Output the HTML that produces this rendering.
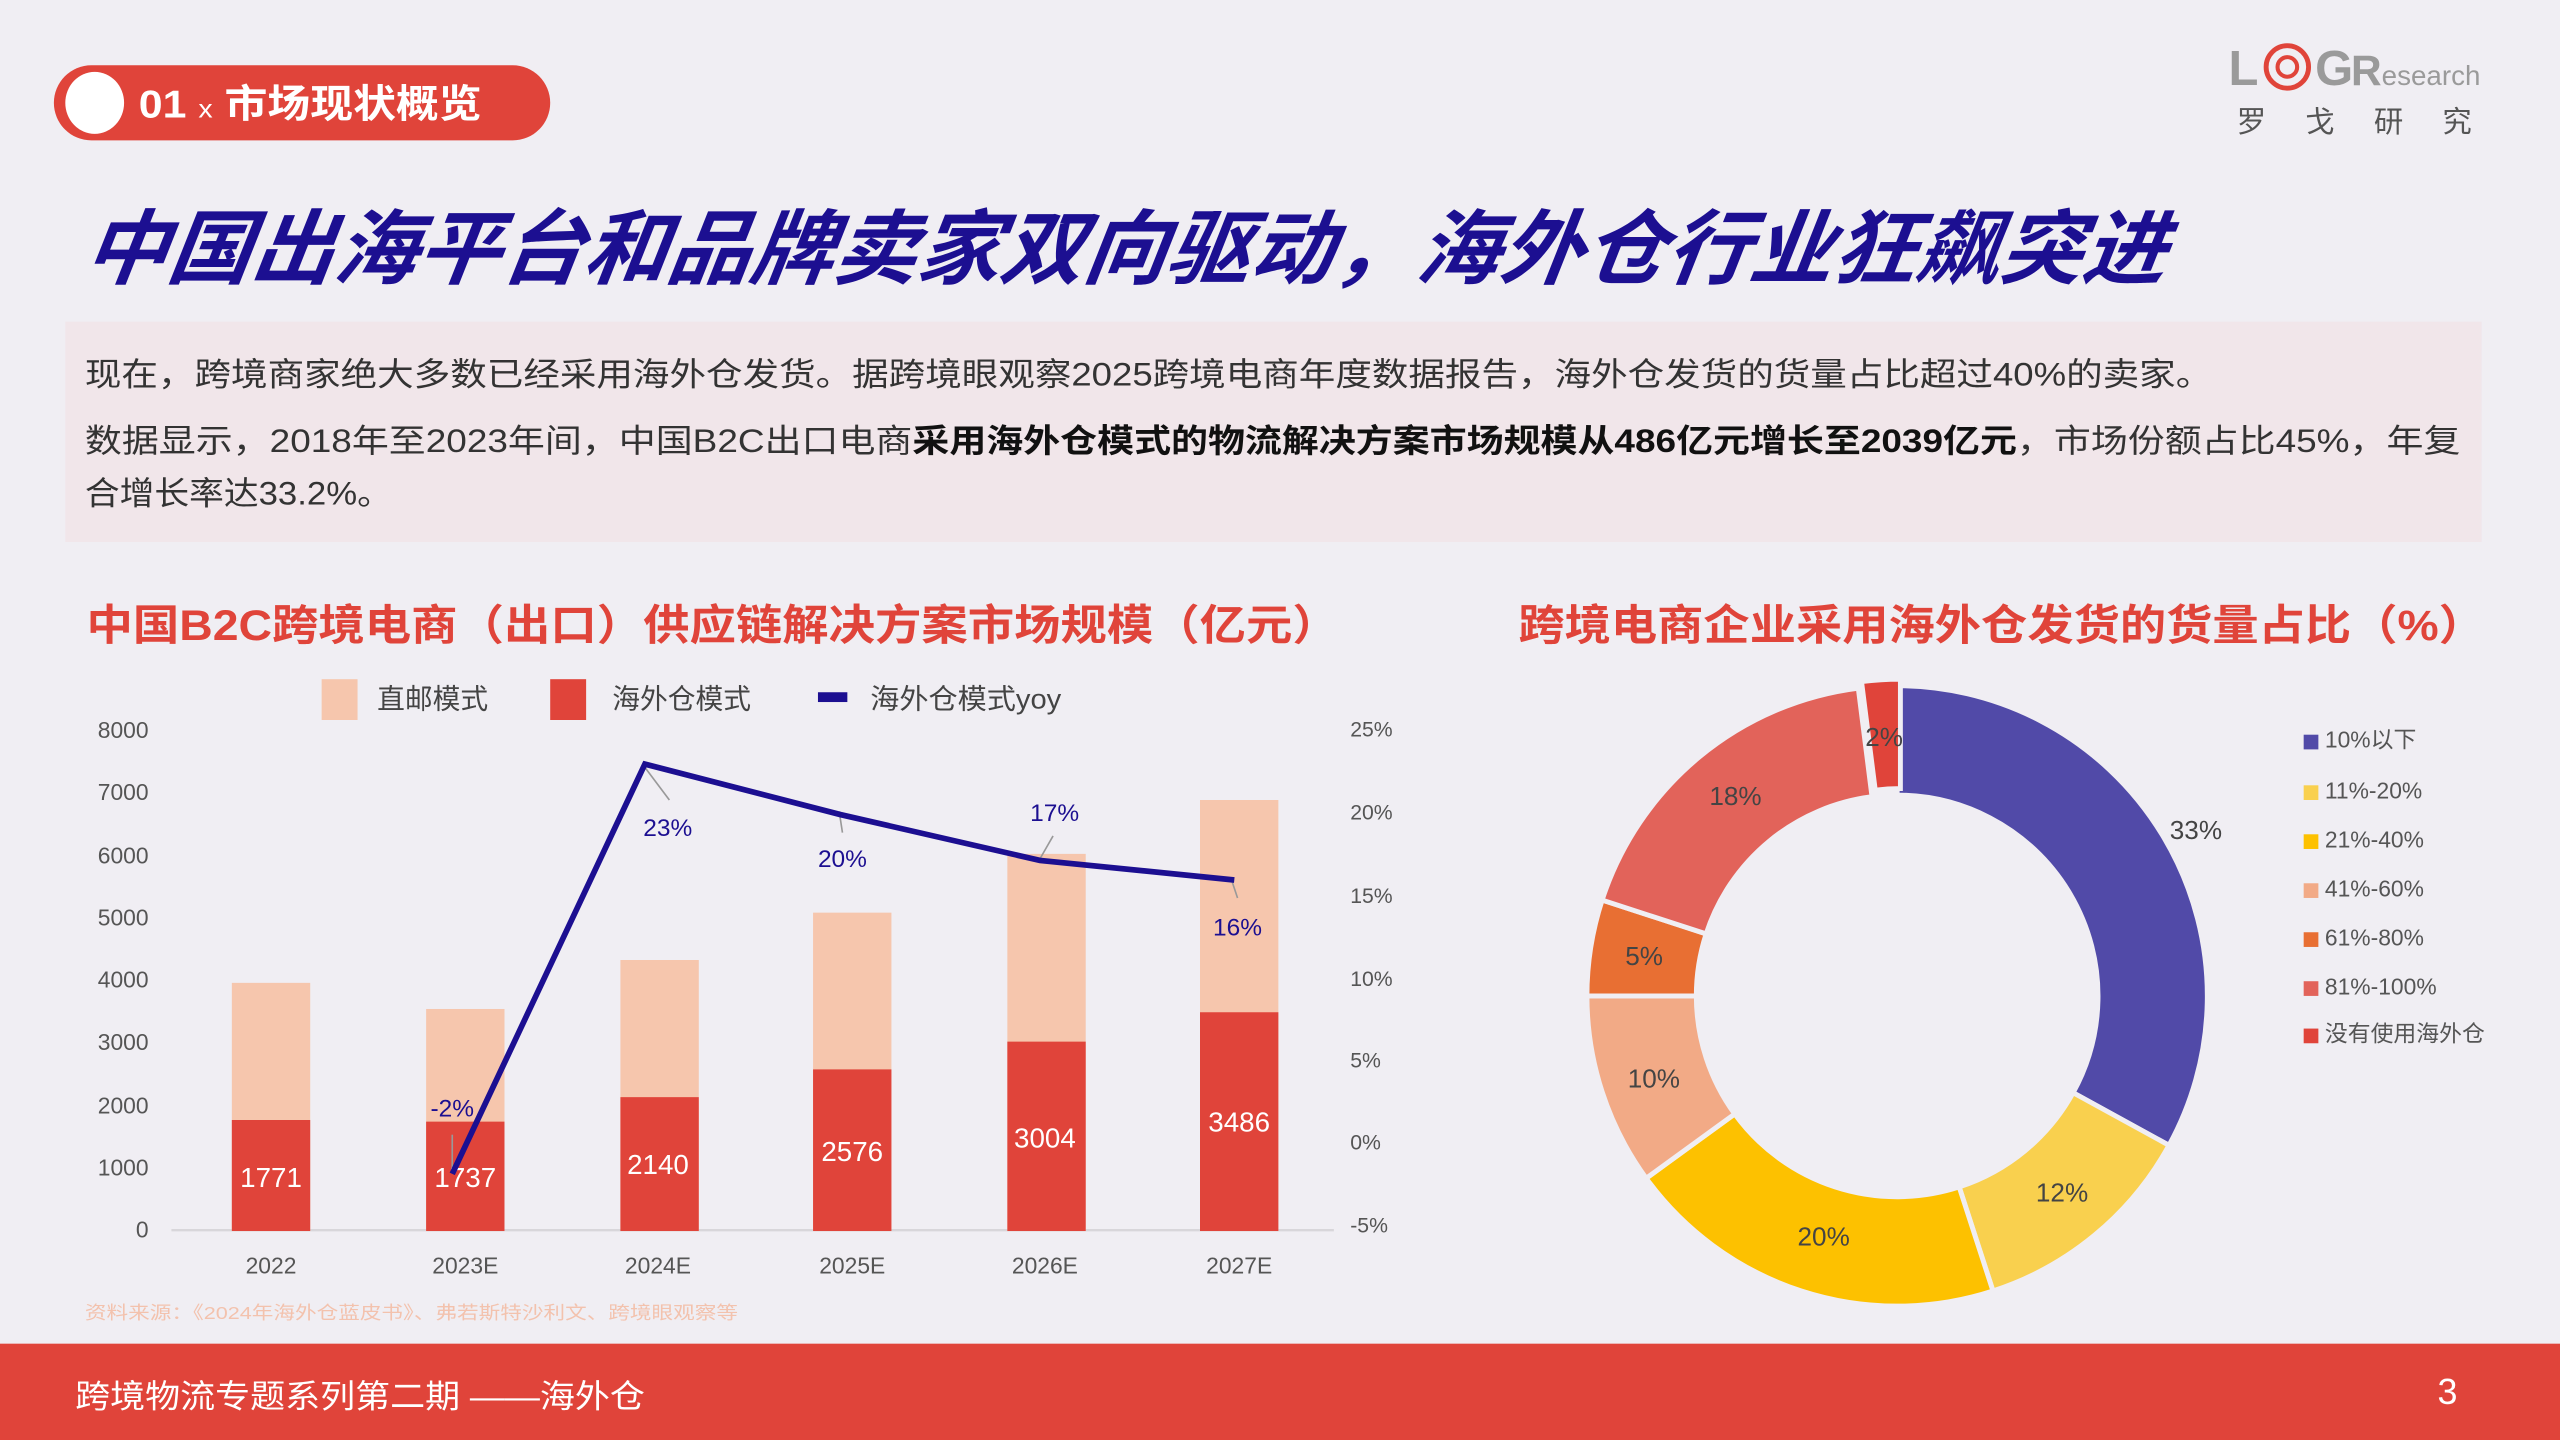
<!DOCTYPE html>
<html><head><meta charset="utf-8"><style>
html,body{margin:0;padding:0;background:#f0eef3;}
svg{display:block;font-family:"Liberation Sans","Noto Sans CJK SC",sans-serif;}
</style></head><body>
<svg width="2560" height="1440" viewBox="0 0 1568 882" xmlns="http://www.w3.org/2000/svg">
<rect width="1568" height="882" fill="#f0eef3"/>
<rect x="33" y="40" width="304" height="46" rx="23" fill="#e0443a"/>
<ellipse cx="58" cy="63" rx="18" ry="19" fill="#fff"/>
<text x="85" y="72" font-size="24" font-weight="bold" fill="#fff" textLength="210" lengthAdjust="spacingAndGlyphs">01 <tspan font-size="16" font-weight="normal">x</tspan> 市场现状概览</text>
<text x="1365" y="52" font-size="30" font-weight="bold" fill="#9a9a9a">L</text>
<circle cx="1401" cy="41" r="13" fill="none" stroke="#e0443a" stroke-width="3"/>
<circle cx="1401" cy="41" r="6" fill="none" stroke="#e0443a" stroke-width="2.5"/>
<text x="1418" y="52" font-size="30" font-weight="bold" fill="#9a9a9a">G</text>
<text x="1440" y="52" font-size="26" font-weight="bold" fill="#9a9a9a">R<tspan font-size="17" font-weight="normal">esearch</tspan></text>
<text x="1370" y="81" font-size="18" fill="#555" letter-spacing="24">罗戈研究</text>
<text x="52" y="170" font-size="50" font-weight="bold" font-style="italic" fill="#1c0f91" transform="skewX(-8) translate(22,0)" textLength="1275" lengthAdjust="spacingAndGlyphs">中国出海平台和品牌卖家双向驱动，海外仓行业狂飙突进</text>
<rect x="40" y="197" width="1480" height="135" fill="#f1e6ea"/>
<text x="52" y="236" font-size="20" fill="#333" textLength="1303" lengthAdjust="spacingAndGlyphs">现在，跨境商家绝大多数已经采用海外仓发货。据跨境眼观察2025跨境电商年度数据报告，海外仓发货的货量占比超过40%的卖家。</text>
<text x="52" y="277" font-size="20" fill="#333" textLength="1455" lengthAdjust="spacingAndGlyphs">数据显示，2018年至2023年间，中国B2C出口电商<tspan font-weight="bold" fill="#111">采用海外仓模式的物流解决方案市场规模从486亿元增长至2039亿元</tspan>，市场份额占比45%，年复</text>
<text x="52" y="309" font-size="20" fill="#333" textLength="188" lengthAdjust="spacingAndGlyphs">合增长率达33.2%。</text>
<text x="53" y="392" font-size="26" font-weight="bold" fill="#e0443a" textLength="767" lengthAdjust="spacingAndGlyphs">中国B2C跨境电商（出口）供应链解决方案市场规模（亿元）</text>
<text x="930" y="392" font-size="26" font-weight="bold" fill="#e0443a" textLength="592" lengthAdjust="spacingAndGlyphs">跨境电商企业采用海外仓发货的货量占比（%）</text>
<rect x="197" y="416" width="22" height="25" fill="#f6c6ad"/>
<text x="231" y="434" font-size="17" fill="#444">直邮模式</text>
<rect x="337" y="416" width="22" height="25" fill="#e0443a"/>
<text x="375" y="434" font-size="17" fill="#444">海外仓模式</text>
<rect x="501" y="424" width="18" height="6" fill="#1c0f91"/>
<text x="533" y="434" font-size="17" fill="#444" textLength="117" lengthAdjust="spacingAndGlyphs">海外仓模式yoy</text>
<g font-size="14" fill="#555" text-anchor="end">
<text x="91" y="452">8000</text><text x="91" y="490">7000</text><text x="91" y="529">6000</text>
<text x="91" y="567">5000</text><text x="91" y="605">4000</text><text x="91" y="643">3000</text>
<text x="91" y="682">2000</text><text x="91" y="720">1000</text><text x="91" y="758">0</text>
</g>
<g font-size="13" fill="#555">
<text x="827" y="451">25%</text><text x="827" y="502">20%</text><text x="827" y="553">15%</text>
<text x="827" y="604">10%</text><text x="827" y="654">5%</text><text x="827" y="704">0%</text><text x="827" y="755">-5%</text>
</g>
<line x1="105" y1="753.5" x2="817" y2="753.5" stroke="#d8d6da" stroke-width="1.5"/>
<g fill="#f6c6ad">
<rect x="142" y="602" width="48" height="152"/>
<rect x="261" y="618" width="48" height="136"/>
<rect x="380" y="588" width="48" height="166"/>
<rect x="498" y="559" width="48" height="195"/>
<rect x="617" y="523" width="48" height="231"/>
<rect x="735" y="490" width="48" height="264"/>
</g>
<g fill="#e0443a">
<rect x="142" y="686" width="48" height="68"/>
<rect x="261" y="687" width="48" height="67"/>
<rect x="380" y="672" width="48" height="82"/>
<rect x="498" y="655" width="48" height="99"/>
<rect x="617" y="638" width="48" height="116"/>
<rect x="735" y="620" width="48" height="134"/>
</g>
<g font-size="17" fill="#fff" text-anchor="middle">
<text x="166" y="727">1771</text><text x="285" y="727">1737</text><text x="403" y="719">2140</text>
<text x="522" y="711">2576</text><text x="640" y="703">3004</text><text x="759" y="693">3486</text>
</g>
<g font-size="14" fill="#555" text-anchor="middle">
<text x="166" y="780">2022</text><text x="285" y="780">2023E</text><text x="403" y="780">2024E</text>
<text x="522" y="780">2025E</text><text x="640" y="780">2026E</text><text x="759" y="780">2027E</text>
</g>
<g stroke="#999" stroke-width="1">
<line x1="277" y1="717" x2="277" y2="695"/>
<line x1="395" y1="470" x2="410" y2="490"/>
<line x1="514" y1="497" x2="516" y2="510"/>
<line x1="637" y1="526" x2="645" y2="512"/>
<line x1="754" y1="538" x2="758" y2="550"/>
</g>
<polyline points="277,719 395,468 515,499 637,527 756,539" fill="none" stroke="#1c0f91" stroke-width="3.5"/>
<g font-size="15" fill="#1c0f91" text-anchor="middle">
<text x="277" y="684">-2%</text><text x="409" y="512">23%</text><text x="516" y="531">20%</text>
<text x="646" y="503">17%</text><text x="758" y="573">16%</text>
</g>
<text x="52" y="808" font-size="11" fill="#f3c2ad" textLength="400" lengthAdjust="spacingAndGlyphs">资料来源：《2024年海外仓蓝皮书》、弗若斯特沙利文、跨境眼观察等</text>
<g stroke="#f0eef3" stroke-width="3">
<path d="M1162,420 A190,190 0 0 1 1328.5,701.5 L1269.8,669.3 A123,123 0 0 0 1162,487 Z" fill="#514aa8"/>
<path d="M1328.5,701.5 A190,190 0 0 1 1220.7,790.7 L1200,727 A123,123 0 0 0 1269.8,669.3 Z" fill="#f9d04e"/>
<path d="M1220.7,790.7 A190,190 0 0 1 1008.3,721.7 L1062.5,682.3 A123,123 0 0 0 1200,727 Z" fill="#fdc100"/>
<path d="M1008.3,721.7 A190,190 0 0 1 972,610 L1039,610 A123,123 0 0 0 1062.5,682.3 Z" fill="#f2aa86"/>
<path d="M972,610 A190,190 0 0 1 981.3,551.3 L1045,572 A123,123 0 0 0 1039,610 Z" fill="#e86f33"/>
<path d="M981.3,551.3 A190,190 0 0 1 1138.2,421.5 L1146.6,488 A123,123 0 0 0 1045,572 Z" fill="#e2635a"/>
<path d="M1138.2,421.5 A190,190 0 0 1 1162,420 L1162,487 A123,123 0 0 0 1146.6,488 Z" fill="#e0443a" transform="translate(2,-4)"/>
</g>
<g font-size="16" fill="#444" text-anchor="middle">
<text x="1345" y="514">33%</text><text x="1263" y="736">12%</text><text x="1117" y="763">20%</text>
<text x="1013" y="666">10%</text><text x="1007" y="591">5%</text><text x="1063" y="493">18%</text><text x="1154" y="457">2%</text>
</g>
<g font-size="14" fill="#555">
<rect x="1411" y="450" width="9" height="9" fill="#514aa8"/><text x="1424" y="458">10%以下</text>
<rect x="1411" y="481" width="9" height="9" fill="#f9d04e"/><text x="1424" y="489">11%-20%</text>
<rect x="1411" y="511" width="9" height="9" fill="#fdc100"/><text x="1424" y="519">21%-40%</text>
<rect x="1411" y="541" width="9" height="9" fill="#f2aa86"/><text x="1424" y="549">41%-60%</text>
<rect x="1411" y="571" width="9" height="9" fill="#e86f33"/><text x="1424" y="579">61%-80%</text>
<rect x="1411" y="601" width="9" height="9" fill="#e2635a"/><text x="1424" y="609">81%-100%</text>
<rect x="1411" y="630" width="9" height="9" fill="#e0443a"/><text x="1424" y="638">没有使用海外仓</text>
</g>
<rect x="0" y="823" width="1568" height="59" fill="#e0443a"/>
<text x="46" y="862" font-size="20" fill="#fff" textLength="349" lengthAdjust="spacingAndGlyphs">跨境物流专题系列第二期 ——海外仓</text>
<text x="1493" y="860" font-size="22" fill="#fff">3</text>
</svg>
</body></html>
